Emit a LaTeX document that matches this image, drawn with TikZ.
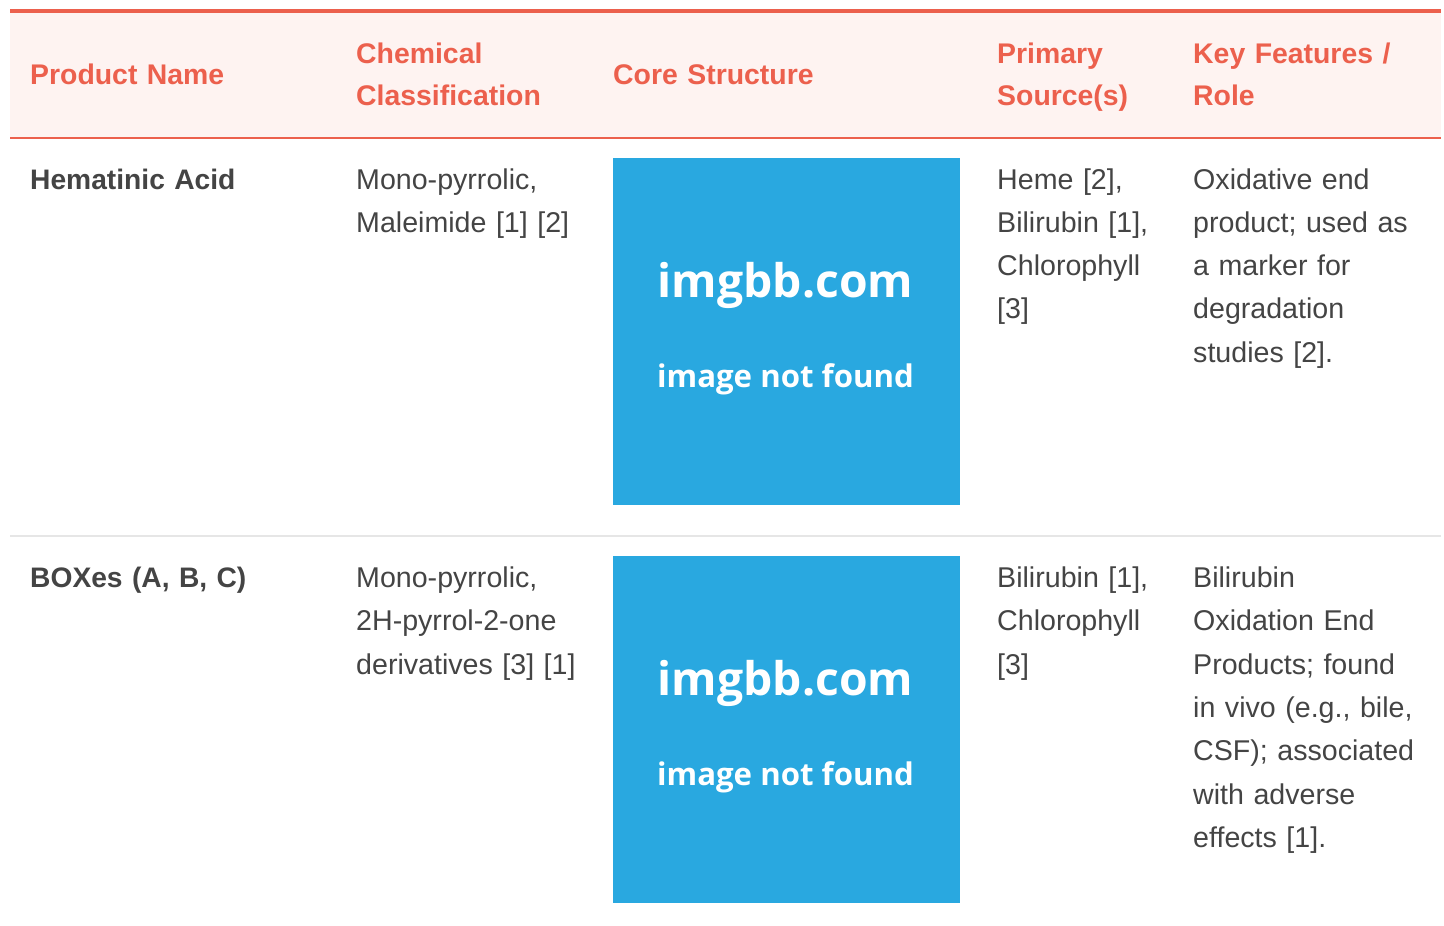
\documentclass[tikz,border=0pt]{standalone}
\usepackage{fontspec}
\setmainfont{Liberation Sans}
\newfontfamily\imgfont{Open Sans}
\definecolor{accent}{HTML}{EC604D}
\definecolor{headbg}{HTML}{FEF3F1}
\definecolor{bodytxt}{HTML}{444444}
\definecolor{rule}{HTML}{E6E6E6}
\definecolor{imgblue}{HTML}{29A8E0}
\tikzset{
  headtxt/.style={anchor=base west, inner sep=0pt, text width=330pt, align=left,
    text=accent, font=\fontsize{28.4}{42.5}\selectfont\bfseries},
  celltxt/.style={anchor=base west, inner sep=0pt, text width=330pt, align=left,
    text=bodytxt, font=\fontsize{28.6}{43.3}\selectfont},
  namecell/.style={celltxt, font=\fontsize{28.2}{43.3}\selectfont\bfseries},
  imgbox/.style={fill=imgblue, draw=none, minimum width=347pt, minimum height=347pt, inner sep=0pt},
  imgbig/.style={text=white, inner sep=0pt, font=\imgfont\fontsize{46.3}{46}\selectfont\bfseries},
  imgsmall/.style={text=white, inner sep=0pt, font=\imgfont\fontsize{31.2}{33}\selectfont\bfseries}
}
\begin{document}
\begin{tikzpicture}[x=1pt,y=-1pt]
\useasboundingbox (0,0) rectangle (1444,926);
% header background and rules
\fill[headbg] (10,12) rectangle (1441,137);
\draw[accent, line width=4pt] (10,10.5) -- (1441,10.5);
\draw[accent, line width=2pt] (10,137.5) -- (1441,137.5);
\draw[rule, line width=2pt] (10,536) -- (1441,536);
% header texts
\node[headtxt] (h1) at (30,84) {Product Name};
\node[headtxt] (h2) at (356,63) {Chemical\\Classification};
\node[headtxt] (h3) at (613,84) {Core Structure};
\node[headtxt] (h4) at (997,63) {Primary\\Source(s)};
\node[headtxt] (h5) at (1193,63) {Key Features /\\Role};
% row 1
\node[namecell] (r1c1) at (30,189) {Hematinic Acid};
\node[celltxt] (r1c2) at (356,189) {Mono-pyrrolic,\\Maleimide [1] [2]};
\node[imgbox] (r1img) at (786.5,331.5) {};
\node[imgbig] (r1t1) at (785.5,285) {imgbb.com};
\node[imgsmall] (r1t2) at (785.5,379) {image not found};
\node[celltxt] (r1c4) at (997,189) {Heme [2],\\Bilirubin [1],\\Chlorophyll\\{[3]}};
\node[celltxt] (r1c5) at (1193,189) {Oxidative end\\product; used as\\a marker for\\degradation\\studies [2].};
% row 2
\node[namecell] (r2c1) at (30,587) {BOXes (A, B, C)};
\node[celltxt] (r2c2) at (356,587.5) {Mono-pyrrolic,\\2H-pyrrol-2-one\\derivatives [3] [1]};
\node[imgbox] (r2img) at (786.5,729.5) {};
\node[imgbig] (r2t1) at (785.5,683) {imgbb.com};
\node[imgsmall] (r2t2) at (785.5,777) {image not found};
\node[celltxt] (r2c4) at (997,587.5) {Bilirubin [1],\\Chlorophyll\\{[3]}};
\node[celltxt] (r2c5) at (1193,587.5) {Bilirubin\\Oxidation End\\Products; found\\in vivo (e.g., bile,\\CSF); associated\\with adverse\\effects [1].};
\end{tikzpicture}
\end{document}
